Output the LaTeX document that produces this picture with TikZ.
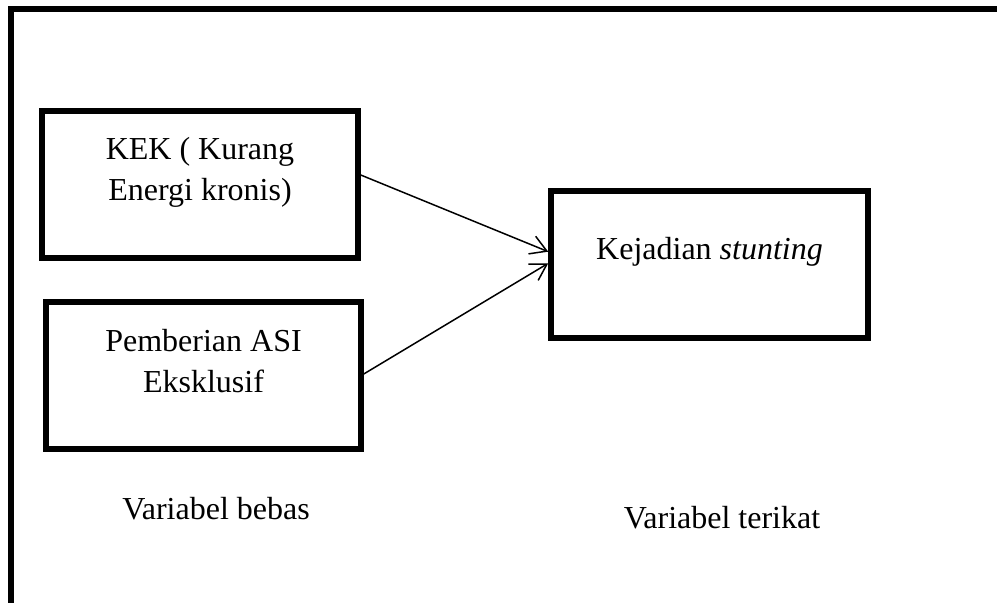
\documentclass[tikz,border=0pt]{standalone}
\usepackage{fontspec}
\setmainfont{Liberation Serif}
\usetikzlibrary{arrows.meta}
\begin{document}
\begin{tikzpicture}[x=1pt,y=1pt,
  varbox/.style={draw=black, line width=5.5pt, rectangle, minimum height=147pt, inner sep=0pt},
  boxtext/.style={anchor=base, inner sep=0pt, font=\fontsize{32}{41}\selectfont},
  conn/.style={draw=black, line width=1.5pt, -{Straight Barb[length=16pt,width=19pt,line width=1.5pt]}},
  frameline/.style={draw=black, line width=6pt}]
\useasboundingbox (0,0) rectangle (997,603);
% outer frame (open at right and bottom, cropped)
\draw[frameline] (11,-20) -- (11,593.7) -- (1020,593.7);
% boxes
\node[varbox, minimum width=316pt] (kek) at (200,418.5) {};
\node[varbox, minimum width=315pt] (asi) at (203.5,227.5) {};
\node[varbox, minimum width=317pt] (stunt) at (709.5,338.5) {};
% texts
\node[boxtext] (kekt) at (200,443) {\begin{tabular}[t]{@{}c@{}}KEK ( Kurang\\Energi kronis)\end{tabular}};
\node[boxtext] (asit) at (203.5,251) {\begin{tabular}[t]{@{}c@{}}Pemberian ASI\\Eksklusif\end{tabular}};
\node[boxtext] (stuntt) at (709.5,343) {Kejadian \textit{stunting}};
\node[boxtext] (bebas) at (216,83) {Variabel bebas};
\node[boxtext] (terikat) at (722,74) {Variabel terikat};
% connectors
\draw[conn] ([yshift=9.5pt]kek.east) -- ([yshift=12.8pt]stunt.west);
\draw[conn] ([yshift=1.5pt]asi.east) -- ([yshift=1.2pt]stunt.west);
\end{tikzpicture}
\end{document}
